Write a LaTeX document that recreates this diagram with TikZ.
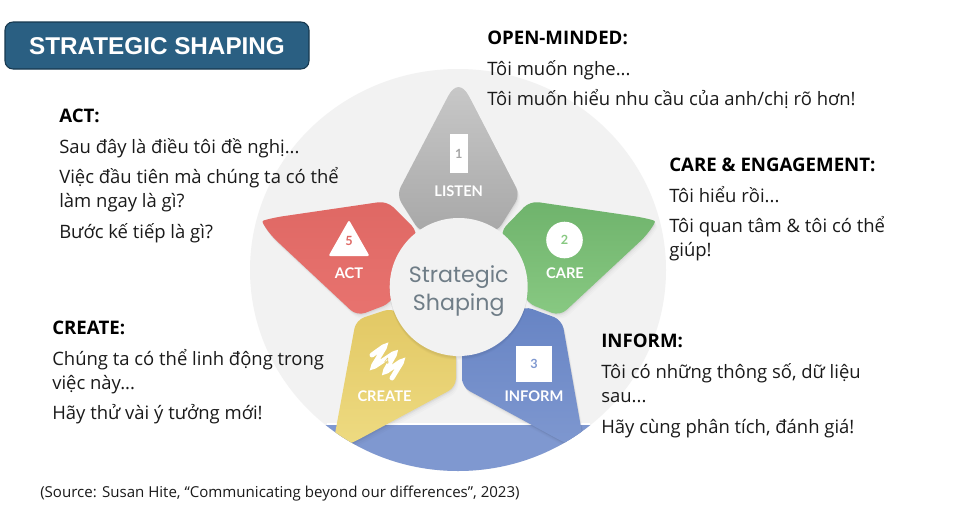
\documentclass[tikz,border=0pt]{standalone}
\usepackage{fontspec}
\setmainfont{Open Sans}
\newfontfamily\headfont{Liberation Sans}
\newfontfamily\hubfont{Poppins}
\newfontfamily\tagfont{Lato}
\definecolor{headfill}{HTML}{2A5F82}
\definecolor{headedge}{HTML}{17384E}
\definecolor{disc}{HTML}{F2F2F2}
\definecolor{band}{HTML}{7F98D0}
\definecolor{hubtext}{HTML}{6F7D87}
\definecolor{copytext}{HTML}{1A1A1A}
\definecolor{greyA}{HTML}{C8C8C8}\definecolor{greyB}{HTML}{A8A8A8}
\definecolor{greenA}{HTML}{6FB36C}\definecolor{greenB}{HTML}{88C982}
\definecolor{redA}{HTML}{DF6864}\definecolor{redB}{HTML}{E8736F}
\definecolor{yellowA}{HTML}{E2C864}\definecolor{yellowB}{HTML}{EEDB82}
\definecolor{blueA}{HTML}{6784C4}\definecolor{blueB}{HTML}{7F98D0}
\tikzset{
  heading/.style={anchor=base west,inner sep=0pt,font=\fontsize{14}{16}\selectfont\bfseries,text=black},
  copyline/.style={anchor=base west,inner sep=0pt,font=\fontsize{13.85}{16}\selectfont,text=copytext},
  tag/.style={inner sep=0pt,text=white,font=\tagfont\fontsize{11}{13}\selectfont\bfseries},
  digit/.style={inner sep=0pt,font=\tagfont\fontsize{9.5}{11}\selectfont\bfseries},
  discclip/.style={insert path={(458,270) ellipse [x radius=208,y radius=201]}},
}
% Petal with a soft offset shadow built from stacked translucent copies.
\newcommand{\petalshape}[3]{%
  \foreach \d/\o in {5/.015,3.5/.02,2/.03,1/.04}
    \fill[black,opacity=\o,rounded corners=6.5,shift={(\d*.5,\d)}] #1;
  \shade[rounded corners=6.5,top color=#2,bottom color=#3] #1;
}
\begin{document}
\begin{tikzpicture}[x=0.75pt,y=-0.75pt]
\useasboundingbox (0,0) rectangle (966,518);
\fill[white] (0,0) rectangle (966,518);

% title plate
\draw[fill=headfill,draw=headedge,line width=.8pt,rounded corners=6] (5,22) rectangle (309,69);
\node[inner sep=0pt,text=white,font=\headfont\fontsize{18.2}{22}\selectfont\bfseries] (title) at (157,46) {STRATEGIC SHAPING};

% backdrop disc and the band along its lower edge
\fill[disc] (458,270) ellipse [x radius=208,y radius=201];
\begin{scope}
  \clip[discclip];
  \fill[white] (327,423) rectangle (590,426);
  \fill[band] (320,425) rectangle (600,480);
\end{scope}

% five petals; the two lower ones run off the rim of the disc
\petalshape{(420,232) -- (396.5,195) -- (444,104) .. controls (454.5,84) and (462.5,84) .. (473,104) -- (520,195) -- (497,232) -- cycle}{greyA}{greyB}
\petalshape{(530,201) -- (643,217.5) .. controls (656,221) .. (647,235) -- (560,316) -- (527,303) -- (500,232) -- cycle}{greenA}{greenB}
\petalshape{(387,201) -- (274.4,217.5) .. controls (261.4,221) .. (270.4,235) -- (357,316) -- (391,303) -- (418,232) -- cycle}{redA}{redB}
\begin{scope}
  \clip[discclip];
  \petalshape{(392,308) -- (356,320) -- (332,450) -- (352,443) -- (456,387) -- (456,350) -- cycle}{yellowA}{yellowB}
  \petalshape{(524,306) -- (562,320) -- (585,450) -- (565,443) -- (462,387) -- (462,350) -- cycle}{blueA}{blueB}
\end{scope}

% hub
\foreach \d/\o in {4/.02,3/.025,2/.03}
  \fill[black,opacity=\o] (458.7,287+\d) circle [radius=69];
\fill[disc] (458.7,287) circle [radius=69];
\node[inner sep=0pt,text=hubtext,font=\hubfont\fontsize{16.6}{21}\selectfont,align=center] (hub) at (458.7,291) {Strategic\\Shaping};

% listen
\fill[white] (450,134) rectangle (468,173);
\node[digit,text=gray!70] (n1) at (458.7,154) {1};
\node[tag] (listen) at (458.7,191) {LISTEN};

% care
\fill[white] (564.5,240) circle [radius=18.3];
\node[digit,text=greenB] (n2) at (564.5,240) {2};
\node[tag] (care) at (565,273) {CARE};

% inform
\fill[white] (516,346) rectangle (552,382);
\node[digit,text=band] (n3) at (534,364) {3};
\node[tag] (inform) at (534,396) {INFORM};

% create: brush scribble
\draw[white,line width=3.7pt,line cap=round,rounded corners=2.5pt]
  (372,355) -- (386,345) -- (372,368) -- (396,352) -- (384,373) -- (403,360) -- (392,378);
\node[digit,text=yellowA,font=\tagfont\fontsize{6.5}{8}\selectfont] (n4) at (387,361) {4};
\node[tag] (create) at (384.5,396) {CREATE};

% act
\fill[white,rounded corners=1.5] (349,220) -- (369.5,256) -- (328.5,256) -- cycle;
\node[digit,text=redA] (n5) at (349,241) {5};
\node[tag] (act) at (349,273) {ACT};

% captions
\node[heading] (t1) at (487,44) {OPEN-MINDED:};
\node[copyline] (t2) at (487,75) {Tôi muốn nghe...};
\node[copyline] (t3) at (487,105) {Tôi muốn hiểu nhu cầu của anh/chị rõ hơn!};

\node[heading] (t4) at (669,171) {CARE \& ENGAGEMENT:};
\node[copyline] (t5) at (669,202) {Tôi hiểu rồi...};
\node[copyline] (t6) at (669,232) {Tôi quan tâm \& tôi có thể};
\node[copyline] (t7) at (669,256) {giúp!};

\node[heading] (t8) at (601,347) {INFORM:};
\node[copyline] (t9) at (601,378) {Tôi có những thông số, dữ liệu};
\node[copyline] (t10) at (601,402) {sau...};
\node[copyline] (t11) at (601,433) {Hãy cùng phân tích, đánh giá!};

\node[heading] (t12) at (59,122) {ACT:};
\node[copyline] (t13) at (59,153) {Sau đây là điều tôi đề nghị...};
\node[copyline] (t14) at (59,183) {Việc đầu tiên mà chúng ta có thể};
\node[copyline] (t15) at (59,207) {làm ngay là gì?};
\node[copyline] (t16) at (59,238) {Bước kế tiếp là gì?};

\node[heading] (t17) at (52,334) {CREATE:};
\node[copyline] (t18) at (52,365) {Chúng ta có thể linh động trong};
\node[copyline] (t19) at (52,389) {việc này...};
\node[copyline] (t20) at (52,419) {Hãy thử vài ý tưởng mới!};

\node[anchor=base west,inner sep=0pt,text=copytext,font=\fontsize{11.3}{13}\selectfont] (src) at (40,497) {(Source: Susan Hite, “Communicating beyond our differences”, 2023)};
\end{tikzpicture}
\end{document}
